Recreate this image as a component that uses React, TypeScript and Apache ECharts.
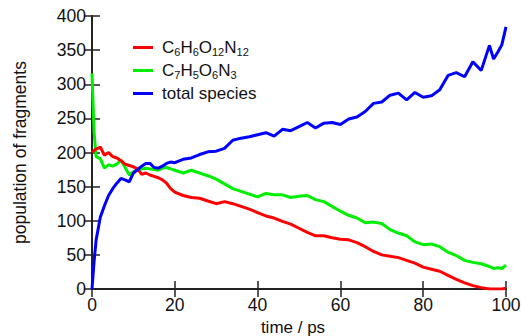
import React, { useEffect, useRef } from "react";
import * as echarts from "echarts";

const time = [0, 0.5, 1, 2, 3, 4, 5, 6, 7, 8, 9, 10, 11, 12, 13, 14, 15, 16, 17, 18, 19, 20,
  22, 24, 26, 28, 30, 32, 34, 36, 38, 40, 42, 44, 46, 48, 50, 52, 54, 56, 58, 60,
  62, 64, 66, 68, 70, 72, 74, 76, 78, 80, 82, 84, 86, 88, 90, 92, 94, 96, 97, 98, 99, 100];

const hmx = [200, 203, 205, 208, 196, 200, 194, 192, 188, 183, 181, 179, 176, 168, 170, 167, 165, 163, 160, 155, 147, 142,
  137, 134, 133, 129, 125, 128, 125, 121, 117, 112, 107, 104, 99, 95, 89, 83, 78, 78, 75, 73,
  72, 68, 62, 55, 50, 48, 46, 42, 38, 32, 29, 26, 20, 14, 9, 5, 2, 0, 0, 0, 0, 1];

const tnt = [316, 230, 194, 191, 177, 182, 180, 183, 189, 178, 167, 172, 174, 176, 177, 176, 175, 174, 177, 178, 176, 174,
  170, 174, 170, 166, 161, 154, 147, 143, 139, 135, 140, 138, 138, 134, 136, 137, 131, 128, 121, 114,
  108, 104, 97, 98, 96, 87, 82, 78, 69, 65, 66, 62, 54, 49, 42, 39, 37, 33, 30, 31, 30, 35];

const total = [0, 40, 72, 105, 122, 137, 147, 155, 162, 160, 157, 170, 175, 180, 184, 184, 178, 177, 180, 184, 186, 185,
  190, 192, 197, 201, 202, 206, 218, 221, 223, 226, 229, 224, 234, 232, 238, 244, 236, 243, 244, 241,
  249, 252, 260, 272, 274, 284, 287, 277, 288, 281, 283, 292, 313, 317, 311, 333, 320, 357, 337, 347, 358, 384];

const seriesNames = ["C6H6O12N12", "C7H5O6N3", "total species"];
const seriesColors = ["#ff0000", "#00ee00", "#0000ff"];

const FONT = "'Liberation Sans', Arial, sans-serif";

function pairs(vals: number[]) {
  return time.map((t, i) => [t, vals[i]]);
}

function legendFmt(name: string) {
  return name
    .split(/(\d+)/)
    .filter((s) => s.length > 0)
    .map((s) => (/^\d+$/.test(s) ? `{s|${s}}` : `{n|${s}}`))
    .join("");
}

export default function App() {
  const ref = useRef<HTMLDivElement>(null);
  useEffect(() => {
    if (!ref.current) return;
    const chart = echarts.init(ref.current, undefined, { renderer: "svg" });
    const axisLine = { show: true, lineStyle: { color: "#222", width: 1.8 } };
    const tick = { show: true, inside: true, length: 8, lineStyle: { color: "#222", width: 1.5 } };
    const label = { color: "#111", fontSize: 17.5, fontFamily: FONT };
    chart.setOption({
      animation: false,
      backgroundColor: "#ffffff",
      grid: { left: 92, right: 15, top: 16, bottom: 47, containLabel: false, outerBoundsMode: "none" },
      legend: {
        orient: "vertical",
        left: 128,
        top: 34,
        itemWidth: 20,
        itemHeight: 3,
        itemGap: 4.5,
        icon: "rect",
        data: seriesNames,
        formatter: legendFmt,
        textStyle: {
          padding: [0, 0, 0, 4],
          rich: {
            n: { fontSize: 17, fontFamily: FONT, color: "#111", lineHeight: 20, verticalAlign: "middle" },
            s: { fontSize: 11, fontFamily: FONT, color: "#111", lineHeight: 20, verticalAlign: "bottom" },
          },
        },
      },
      xAxis: [
        {
          type: "value",
          min: 0,
          max: 100,
          interval: 20,
          position: "bottom",
          name: "time / ps",
          nameLocation: "middle",
          nameGap: 25,
          nameTextStyle: { fontSize: 17, fontFamily: FONT, color: "#111", padding: [0, 12, 0, 0] },
          axisLine,
          axisTick: tick,
          axisLabel: { ...label, margin: 7 },
          splitLine: { show: false },
        },
        {
          type: "value",
          min: 0,
          max: 100,
          interval: 20,
          position: "top",
          axisLine,
          axisTick: tick,
          axisLabel: { show: false },
          splitLine: { show: false },
        },
      ],
      yAxis: [
        {
          type: "value",
          min: 0,
          max: 400,
          interval: 50,
          position: "left",
          name: "population of fragments",
          nameLocation: "middle",
          nameGap: 63,
          nameRotate: 90,
          nameTextStyle: { fontSize: 17.5, fontFamily: FONT, color: "#111" },
          axisLine,
          axisTick: tick,
          axisLabel: { ...label, margin: 6 },
          splitLine: { show: false },
        },
        {
          type: "value",
          min: 0,
          max: 400,
          interval: 50,
          position: "right",
          axisLine,
          axisTick: tick,
          axisLabel: { show: false },
          splitLine: { show: false },
        },
      ],
      series: [
        {
          name: seriesNames[1],
          type: "line",
          data: pairs(tnt),
          symbol: "none",
          color: seriesColors[1],
          lineStyle: { width: 3, color: seriesColors[1] },
          z: 2,
        },
        {
          name: seriesNames[0],
          type: "line",
          data: pairs(hmx),
          symbol: "none",
          color: seriesColors[0],
          lineStyle: { width: 3, color: seriesColors[0] },
          z: 3,
        },
        {
          name: seriesNames[2],
          type: "line",
          data: pairs(total),
          symbol: "none",
          color: seriesColors[2],
          lineStyle: { width: 3, color: seriesColors[2] },
          z: 4,
        },
      ],
    });
    return () => chart.dispose();
  }, []);
  return (
    <div
      ref={ref}
      style={{ position: "fixed", left: 0, top: 0, width: 521, height: 336, background: "#fff" }}
    />
  );
}
